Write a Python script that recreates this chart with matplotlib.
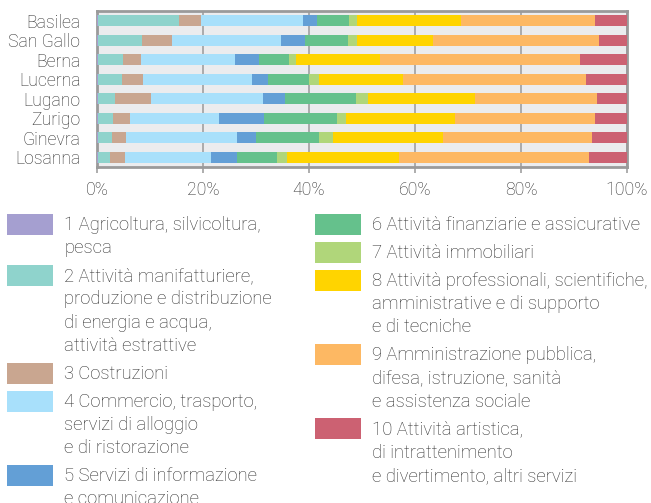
import matplotlib
matplotlib.use("Agg")
import matplotlib.pyplot as plt
from matplotlib.patches import Rectangle
import numpy as np

plt.rcParams["font.family"] = ["Roboto", "DejaVu Sans"]
plt.rcParams["font.weight"] = "light"

cities = ["Basilea", "San Gallo", "Berna", "Lucerna", "Lugano", "Zurigo", "Ginevra", "Losanna"]

# share of employment by sector, %
agricoltura   = [0.1, 0.1, 0.1, 0.1, 0.1, 0.1, 0.1, 0.1]
manifattura   = [15.3, 8.4, 4.8, 4.7, 3.3, 3.0, 2.8, 2.4]
costruzioni   = [4.3, 5.7, 3.4, 3.9, 6.8, 3.2, 2.6, 2.8]
commercio     = [19.2, 20.6, 17.8, 20.6, 21.2, 16.8, 21.0, 16.2]
informazione  = [2.7, 4.5, 4.5, 3.0, 4.1, 8.4, 3.5, 5.0]
finanza       = [5.9, 8.1, 5.7, 7.7, 13.4, 13.8, 11.9, 7.5]
immobiliari   = [1.5, 1.7, 1.3, 1.9, 2.2, 1.7, 2.7, 1.9]
professionali = [19.6, 14.4, 15.8, 15.8, 20.2, 20.7, 20.7, 21.2]
pubblica      = [25.4, 31.4, 37.9, 34.7, 23.2, 26.4, 28.1, 35.9]
artistica     = [6.0, 5.2, 8.8, 7.7, 5.6, 6.0, 6.7, 7.1]

series = [agricoltura, manifattura, costruzioni, commercio, informazione,
          finanza, immobiliari, professionali, pubblica, artistica]
colors = ["#a59fd0", "#8fd3cc", "#c9a690", "#a8e0fb", "#639fd6",
          "#65c18c", "#b0d67a", "#ffd400", "#fdb863", "#cc6172"]
labels = [
    "1 Agricoltura, silvicoltura,\npesca",
    "2 Attività manifatturiere,\nproduzione e distribuzione\ndi energia e acqua,\nattività estrattive",
    "3 Costruzioni",
    "4 Commercio, trasporto,\nservizi di alloggio\ne di ristorazione",
    "5 Servizi di informazione\ne comunicazione",
    "6 Attività finanziarie e assicurative",
    "7 Attività immobiliari",
    "8 Attività professionali, scientifiche,\namministrative e di supporto\ne di tecniche",
    "9 Amministrazione pubblica,\ndifesa, istruzione, sanità\ne assistenza sociale",
    "10 Attività artistica,\ndi intrattenimento\ne divertimento, altri servizi",
]

TXT = "#2e2e2e"
FS = 12.7
FS_LEG = 13.3
W, H = 651, 503
fig = plt.figure(figsize=(W / 100, H / 100), dpi=100)
ax = fig.add_axes([97 / W, 1 - 167 / H, 530 / W, 156 / H])
ax.set_facecolor("#ebecee")

vals = np.array(series, dtype=float)
vals = vals / vals.sum(axis=0) * 100
y = np.arange(len(cities))
left = np.zeros(len(cities))
for v, c in zip(vals, colors):
    ax.barh(y, v, left=left, height=0.58, color=c, lw=0, zorder=3)
    left += v

ax.set_xlim(0, 100)
ax.set_ylim(len(cities) - 0.5, -0.5)
ax.set_yticks(y)
ax.set_yticklabels(cities)
ax.set_xticks([0, 20, 40, 60, 80, 100])
ax.set_xticklabels([f"{t}%" for t in range(0, 101, 20)])
ax.xaxis.grid(True, color="#a0a0a0", lw=1.2, zorder=1)
ax.set_axisbelow(True)
ax.tick_params(axis="y", length=0, pad=12, labelsize=FS, labelcolor=TXT)
ax.tick_params(axis="x", length=4, width=1.2, color="#a0a0a0", pad=6,
               labelsize=FS, labelcolor=TXT)
for s in ax.spines.values():
    s.set_color("#9a9a9a")
    s.set_linewidth(2)

# legend drawn by hand in two columns
LINE = 23.3
GAP = 4.5
columns = [(range(0, 5), 7, 64), (range(5, 10), 315, 372)]
for idx, sx, tx in columns:
    ty = 225.0
    for i in idx:
        fig.patches.append(Rectangle((sx / W, 1 - (ty + 10) / H), 46 / W, 21 / H,
                                     transform=fig.transFigure, color=colors[i], lw=0))
        lines = labels[i].split("\n")
        for k, line in enumerate(lines):
            fig.text(tx / W, 1 - (ty + k * LINE) / H, line, fontsize=FS_LEG,
                     color=TXT, va="center", ha="left")
        ty += len(lines) * LINE + GAP

fig.savefig("out.png", dpi=100)
